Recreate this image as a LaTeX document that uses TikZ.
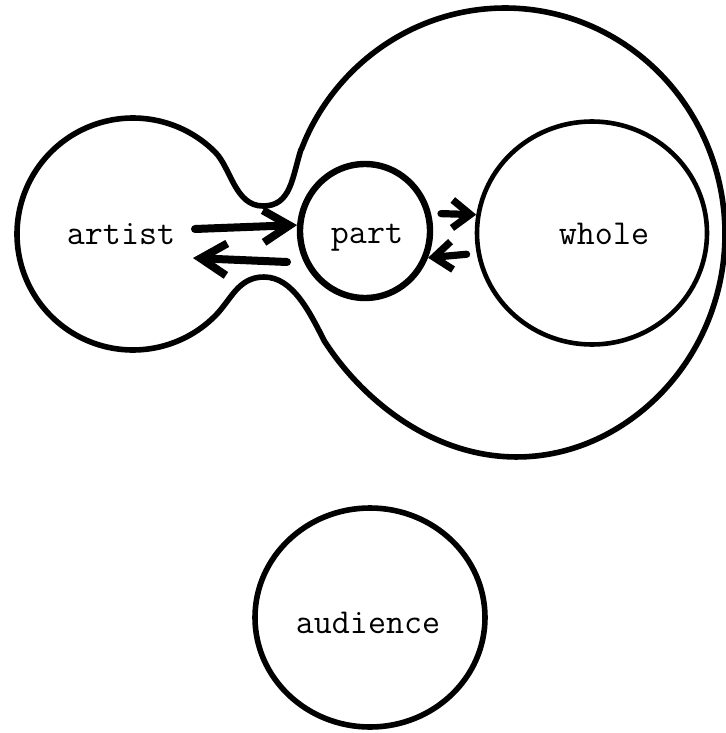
\documentclass[tikz,border=0pt]{standalone}
\usetikzlibrary{shapes.geometric,arrows.meta}
\begin{document}
\begin{tikzpicture}[x=0.5pt,y=-0.5pt,
  outline/.style={line width=2.8pt, line join=round},
  blob/.style={ellipse, draw, inner sep=0pt},
  lbl/.style={font=\fontsize{17.5}{20}\selectfont\ttfamily, anchor=base, inner sep=0pt},
  bigarrow/.style={line width=4pt, line cap=round, -{Straight Barb[length=13pt,width=16pt]}},
  smallarrow/.style={line width=3.6pt, line cap=round, -{Straight Barb[length=9pt,width=14pt]}}]
\useasboundingbox (0,0) rectangle (725,733);
% combined outline: artist lobe + necks + big circle
\coordinate (J1) at ({505+220*cos(202)},{234+226*sin(202)});
\coordinate (L2) at ({133+116*cos(45)},{234+116*sin(45)});
\coordinate (Utop) at (263,206);
\coordinate (Ubot) at (264,277);
\draw[outline]
  plot[domain=45:315, samples=60, smooth] ({133+116*cos(\x)},{234+116*sin(\x)})
  .. controls (231,168) and (235,206) .. (Utop)
  .. controls (291,206) and (292,178) .. (J1)
  -- plot[domain=202:510, samples=100, smooth]
     ({505+220*(1-0.06*pow(max(0,cos(\x-135)),4))*cos(\x)},
      {234+226*(1-0.06*pow(max(0,cos(\x-135)),4))*sin(\x)})
  .. controls (310,313) and (293,277) .. (Ubot)
  .. controls (238,277) and (231,300) .. (L2) -- cycle;
% circles
\node[blob, line width=3.2pt, minimum width=65pt, minimum height=67pt] (part) at (365,231) {};
\node[blob, line width=2.3pt, minimum width=115pt, minimum height=111.5pt] (whole) at (592,233) {};
\node[blob, line width=2.8pt, minimum width=115pt, minimum height=109.5pt] (audience) at (370,617.5) {};
% labels
\node[lbl] (artistlbl) at (121,244) {artist};
\node[lbl] (partlbl) at (367,243) {part};
\node[lbl] (wholelbl) at (604,244) {whole};
\node[lbl] (audiencelbl) at (368,633) {audience};
% arrows
\coordinate (artTail) at (195,229);
\coordinate (retTail) at (287,262);
\coordinate (retTip) at (193,258);
\draw[bigarrow] (artTail) -- (part.175);
\draw[bigarrow] (retTail) -- (retTip);
\draw[smallarrow, shorten <=5pt] (part.15) -- (whole.171);
\draw[smallarrow, shorten <=5pt] (whole.190) -- (part.-23);
\end{tikzpicture}
\end{document}
